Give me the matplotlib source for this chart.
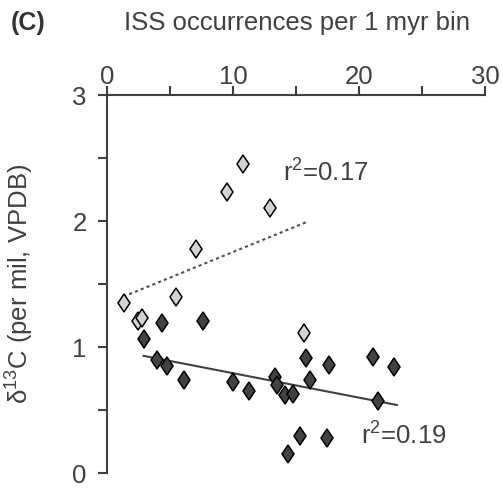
import numpy as np
import matplotlib
matplotlib.use("Agg")
import matplotlib.pyplot as plt

plt.rcParams["font.family"] = ["Liberation Sans", "DejaVu Sans"]
plt.rcParams["mathtext.fontset"] = "custom"
plt.rcParams["mathtext.rm"] = "Liberation Sans"
plt.rcParams["mathtext.it"] = "Liberation Sans:italic"

# light grey group (r2 = 0.17)
light_x = [1.35, 2.5, 2.8, 5.5, 7.1, 9.5, 10.8, 12.9, 15.6]
light_y = [1.35, 1.21, 1.23, 1.40, 1.78, 2.23, 2.45, 2.10, 1.11]

# dark grey group (r2 = 0.19)
dark_x = [4.4, 7.6, 2.9, 4.0, 4.8, 6.1, 10.0, 11.3, 13.3, 13.5, 14.1, 14.8,
          15.8, 16.1, 17.6, 21.1, 22.8, 21.5, 15.3, 14.4, 17.5]
dark_y = [1.19, 1.21, 1.06, 0.90, 0.85, 0.74, 0.72, 0.65, 0.76, 0.70, 0.62, 0.63,
          0.91, 0.74, 0.86, 0.92, 0.84, 0.57, 0.29, 0.15, 0.28]

# regression lines (end points)
light_fit_x = [1.3, 15.8]
light_fit_y = [1.40, 1.99]
dark_fit_x = [2.9, 23.0]
dark_fit_y = [0.93, 0.54]

grey = "#404040"
fs = 18.5

fig = plt.figure(figsize=(5.03, 4.88), dpi=100)
ax = fig.add_axes([0.2127, 0.0307, 0.7515, 0.7746])

ax.plot(light_fit_x, light_fit_y, color="#505050", lw=1.5, linestyle=(0, (1.5, 1.5)))
ax.plot(dark_fit_x, dark_fit_y, color=grey, lw=1.5)

ax.plot(light_x, light_y, linestyle="none", marker="d", markersize=9.5,
        markerfacecolor="#d3d3d3", markeredgecolor="black", markeredgewidth=1.1,
        clip_on=False)
ax.plot(dark_x, dark_y, linestyle="none", marker="d", markersize=9.5,
        markerfacecolor="#424242", markeredgecolor="black", markeredgewidth=1.1,
        clip_on=False)

ax.text(13.97, 2.31, "r$^2$=0.17", fontsize=fs, color=grey, va="baseline", ha="left")
ax.text(20.16, 0.222, "r$^2$=0.19", fontsize=fs, color=grey, va="baseline", ha="left")

ax.set_xlim(0, 30)
ax.set_ylim(0, 3)
ax.xaxis.tick_top()
ax.set_xticks([0, 10, 20, 30])
ax.set_xticks([5, 15, 25], minor=True)
ax.set_yticks([0, 1, 2, 3])
ax.set_yticks([0.5, 1.5, 2.5], minor=True)

for s in ["right", "bottom"]:
    ax.spines[s].set_visible(False)
for s in ["left", "top"]:
    ax.spines[s].set_color(grey)
    ax.spines[s].set_linewidth(1.5)

ax.tick_params(which="both", direction="out", length=6.5, width=1.5, color=grey,
               labelcolor=grey, labelsize=fs)
ax.tick_params(axis="x", which="both", top=True, bottom=False, pad=-2)
ax.tick_params(axis="y", which="both", pad=8)

ax.set_ylabel("δ$^{13}$C (per mil, VPDB)", fontsize=fs, color=grey)
ax.yaxis.set_label_coords(-0.188, 0.5)

fig.text(0.59, 0.953, "ISS occurrences per 1 myr bin", fontsize=fs, color=grey,
         ha="center", va="center")
fig.text(0.022, 0.953, "(C)", fontsize=18, fontweight="bold", color="#333333",
         ha="left", va="center")

fig.savefig("out.png", dpi=100)
